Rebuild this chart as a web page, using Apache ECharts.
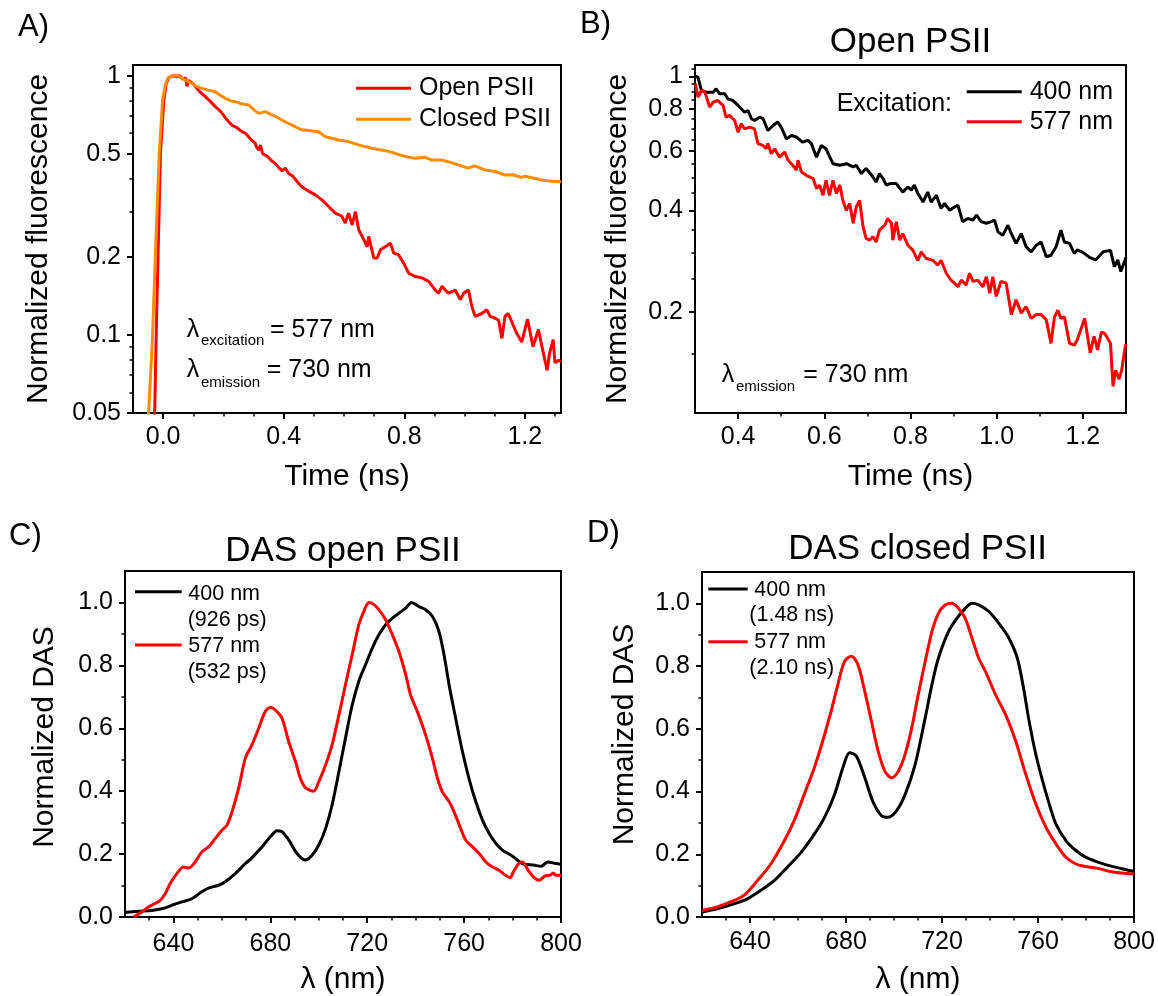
<!DOCTYPE html>
<html>
<head>
<meta charset="utf-8">
<script src="https://cdn.jsdelivr.net/npm/echarts@6/dist/echarts.min.js"></script>
<style>html,body{margin:0;padding:0;background:#fff}#chart{width:1158px;height:996px}</style>
</head>
<body>
<div id="chart"></div>
<script>
// ---------------- DATA ----------------
// Panel A: fluorescence decay (excitation 577 nm, emission 730 nm)
const timeA_open = [-0.034,-0.028,-0.023,-0.017,-0.009,0.002,0.010,0.018,0.030,0.045,0.055,0.065,0.075,0.079,0.085,0.100,0.120,0.140,0.155,0.173,0.190,0.210,0.228,0.245,0.260,0.273,0.290,0.305,0.310,0.317,0.323,0.330,0.345,0.360,0.372,0.385,0.395,0.405,0.416,0.430,0.445,0.460,0.472,0.490,0.505,0.527,0.549,0.571,0.593,0.604,0.615,0.627,0.638,0.649,0.666,0.677,0.682,0.699,0.710,0.721,0.737,0.754,0.765,0.781,0.798,0.815,0.837,0.859,0.881,0.903,0.914,0.925,0.936,0.947,0.969,0.986,0.997,1.013,1.024,1.035,1.057,1.074,1.085,1.102,1.113,1.124,1.134,1.145,1.160,1.172,1.190,1.209,1.227,1.245,1.257,1.274,1.282,1.294,1.300,1.312,1.320];
const fluorA_open = [0.035,0.05,0.1,0.2,0.5,0.8,0.93,0.98,1.0,0.99,1.0,0.97,0.98,0.91,0.96,0.93,0.87,0.83,0.80,0.76,0.73,0.68,0.645,0.63,0.61,0.60,0.57,0.55,0.53,0.517,0.54,0.50,0.49,0.47,0.459,0.44,0.43,0.44,0.42,0.41,0.39,0.373,0.365,0.355,0.347,0.332,0.313,0.295,0.287,0.270,0.295,0.266,0.299,0.254,0.233,0.219,0.240,0.198,0.198,0.213,0.219,0.226,0.207,0.204,0.189,0.173,0.168,0.166,0.161,0.149,0.145,0.154,0.149,0.145,0.149,0.137,0.145,0.149,0.129,0.118,0.121,0.125,0.118,0.116,0.114,0.097,0.118,0.121,0.11,0.102,0.094,0.115,0.090,0.105,0.090,0.073,0.085,0.096,0.078,0.080,0.079];
const timeA_closed = [-0.052,-0.048,-0.035,-0.026,-0.013,-0.002,0.008,0.016,0.030,0.050,0.063,0.080,0.096,0.110,0.129,0.150,0.173,0.190,0.206,0.225,0.240,0.260,0.284,0.300,0.317,0.339,0.361,0.380,0.394,0.410,0.427,0.445,0.460,0.472,0.495,0.516,0.538,0.560,0.582,0.615,0.648,0.692,0.737,0.770,0.803,0.836,0.869,0.891,0.924,0.946,0.979,1.012,1.034,1.068,1.101,1.134,1.160,1.190,1.200,1.220,1.260,1.290,1.320];
const fluorA_closed = [0.04,0.05,0.1,0.2,0.5,0.8,0.93,0.98,1.0,1.0,0.977,0.955,0.935,0.91,0.894,0.88,0.868,0.84,0.818,0.80,0.794,0.78,0.771,0.74,0.716,0.727,0.706,0.69,0.675,0.66,0.645,0.63,0.618,0.618,0.612,0.608,0.582,0.574,0.565,0.557,0.541,0.525,0.514,0.502,0.488,0.48,0.485,0.473,0.473,0.466,0.453,0.44,0.449,0.433,0.427,0.414,0.415,0.405,0.41,0.405,0.395,0.392,0.39];

// Panel B: open PSII, excitation 400 nm vs 577 nm
const timeB_400 = [0.300,0.307,0.315,0.326,0.342,0.349,0.357,0.369,0.376,0.388,0.400,0.403,0.415,0.423,0.431,0.438,0.450,0.458,0.469,0.481,0.492,0.500,0.512,0.524,0.535,0.550,0.562,0.570,0.582,0.593,0.604,0.620,0.636,0.651,0.667,0.674,0.686,0.697,0.713,0.720,0.728,0.736,0.744,0.752,0.767,0.782,0.794,0.802,0.809,0.817,0.829,0.840,0.848,0.860,0.871,0.879,0.891,0.902,0.910,0.921,0.933,0.945,0.953,0.964,0.976,0.987,0.995,1.003,1.014,1.026,1.034,1.045,1.057,1.068,1.080,1.092,1.103,1.115,1.126,1.138,1.149,1.157,1.169,1.180,1.187,1.200,1.215,1.230,1.247,1.264,1.273,1.281,1.288,1.298,1.300];
const fluorB_400 = [1.0,0.993,0.907,0.897,0.897,0.918,0.887,0.887,0.857,0.847,0.819,0.828,0.782,0.791,0.748,0.739,0.756,0.748,0.69,0.714,0.731,0.706,0.652,0.667,0.66,0.637,0.645,0.631,0.575,0.623,0.609,0.55,0.544,0.55,0.538,0.544,0.514,0.532,0.502,0.485,0.514,0.497,0.475,0.48,0.48,0.453,0.469,0.459,0.475,0.449,0.423,0.453,0.423,0.443,0.405,0.419,0.4,0.409,0.414,0.37,0.378,0.374,0.387,0.37,0.366,0.37,0.374,0.345,0.337,0.361,0.341,0.319,0.341,0.312,0.301,0.315,0.322,0.291,0.294,0.312,0.349,0.322,0.319,0.298,0.305,0.30,0.29,0.285,0.301,0.304,0.272,0.285,0.263,0.285,0.29];
const timeB_577 = [0.301,0.307,0.315,0.323,0.334,0.342,0.353,0.365,0.372,0.380,0.392,0.400,0.407,0.415,0.427,0.438,0.446,0.458,0.465,0.469,0.477,0.485,0.496,0.508,0.516,0.527,0.535,0.539,0.547,0.558,0.574,0.582,0.589,0.597,0.604,0.612,0.620,0.628,0.636,0.643,0.651,0.659,0.667,0.674,0.682,0.690,0.697,0.705,0.713,0.720,0.728,0.740,0.747,0.756,0.759,0.767,0.775,0.782,0.794,0.805,0.817,0.825,0.836,0.852,0.863,0.871,0.883,0.894,0.902,0.910,0.918,0.929,0.937,0.945,0.956,0.968,0.976,0.984,0.991,0.999,1.010,1.022,1.034,1.045,1.057,1.068,1.080,1.092,1.103,1.115,1.126,1.134,1.142,1.149,1.157,1.169,1.180,1.187,1.204,1.217,1.226,1.234,1.243,1.251,1.264,1.270,1.276,1.284,1.290,1.298,1.300];
const fluorB_577 = [0.95,0.867,0.907,0.897,0.81,0.838,0.847,0.819,0.756,0.765,0.739,0.682,0.723,0.698,0.706,0.698,0.631,0.623,0.609,0.631,0.589,0.609,0.575,0.596,0.563,0.544,0.526,0.563,0.52,0.508,0.497,0.464,0.475,0.443,0.491,0.443,0.491,0.449,0.475,0.428,0.4,0.419,0.366,0.409,0.428,0.357,0.33,0.326,0.334,0.322,0.349,0.361,0.378,0.366,0.326,0.37,0.326,0.341,0.315,0.305,0.284,0.301,0.288,0.284,0.275,0.284,0.26,0.248,0.243,0.237,0.248,0.24,0.26,0.246,0.248,0.237,0.254,0.227,0.254,0.222,0.246,0.243,0.196,0.217,0.198,0.207,0.191,0.196,0.196,0.189,0.161,0.193,0.202,0.191,0.193,0.161,0.159,0.165,0.191,0.151,0.169,0.154,0.174,0.172,0.161,0.12,0.134,0.126,0.134,0.157,0.16];

// Panel C: DAS open PSII
const wlC_400 = [620,625.5,631.1,635.2,639.3,643.5,647.6,651.7,654.5,658.6,661.4,665.5,669.7,672.4,676.6,680,682.8,684.8,687.6,691,694.5,697.3,700,702.8,705.5,708.3,711,713.8,716.5,719.3,722.1,724.8,727.6,730.4,733.1,735.9,738.3,741.4,744.1,746.9,749.6,751.7,753.8,756.5,759.3,762,764.8,767.6,770.3,773.1,775.9,779.3,784.1,788.7,791.8,794.5,797.9,800];
const dasC_400 = [0.014,0.018,0.021,0.026,0.037,0.048,0.058,0.08,0.092,0.101,0.112,0.138,0.17,0.188,0.223,0.255,0.274,0.271,0.245,0.202,0.181,0.197,0.229,0.281,0.356,0.462,0.568,0.674,0.749,0.802,0.855,0.897,0.929,0.95,0.966,0.982,1.0,0.987,0.977,0.956,0.908,0.834,0.738,0.632,0.526,0.441,0.367,0.308,0.266,0.234,0.212,0.197,0.17,0.165,0.161,0.175,0.17,0.168];
const wlC_577 = [623.5,626.9,629.7,632.4,634.5,636.6,638.6,641.4,644.1,646.2,649,651.7,654.5,657.3,660,662.1,664.2,666.9,669.7,672.4,675.2,677.9,680,682.1,684.8,687.6,690.4,692.4,694.5,697.9,700,702.8,705.5,708.3,711,713.8,716.5,718.6,720.7,722.8,724.8,727.6,730.4,733.1,735.9,737.9,740.7,744.1,746.9,749,751,753.8,755.8,758.6,760.7,763.5,766.2,769,771.7,774.5,777.2,779,780.3,782.6,784.1,786.4,788.7,791,793.3,795.6,796.8,797.9,800];
const dasC_577 = [0.0,0.016,0.032,0.043,0.053,0.074,0.106,0.138,0.159,0.156,0.175,0.207,0.223,0.25,0.276,0.292,0.335,0.409,0.505,0.547,0.6,0.653,0.666,0.658,0.632,0.557,0.494,0.441,0.411,0.4,0.43,0.483,0.547,0.642,0.738,0.834,0.929,0.972,1.0,0.993,0.977,0.945,0.897,0.844,0.77,0.706,0.653,0.579,0.505,0.441,0.398,0.367,0.335,0.281,0.244,0.223,0.202,0.175,0.159,0.148,0.132,0.125,0.143,0.17,0.175,0.149,0.127,0.117,0.13,0.133,0.14,0.133,0.133];

// Panel D: DAS closed PSII
const wlD_400 = [620,626.3,633.3,638.9,644.5,650.1,655.6,661.3,666.8,671,675.2,678.7,681.5,684.3,687.8,691.3,694.8,697.6,701.1,704.6,708.8,713,715.8,718.5,722.7,726.2,729.7,732.5,735.3,739.5,743.7,747.9,751.4,754.2,756.3,759.1,761.9,764.7,767.5,771.7,775.8,780,785,790,795,800];
const dasD_400 = [0.016,0.026,0.042,0.058,0.085,0.116,0.159,0.206,0.264,0.317,0.39,0.476,0.524,0.513,0.445,0.366,0.323,0.318,0.339,0.39,0.486,0.635,0.741,0.825,0.91,0.952,0.984,1.0,0.995,0.974,0.936,0.889,0.825,0.72,0.624,0.518,0.434,0.36,0.296,0.243,0.212,0.19,0.175,0.163,0.154,0.145];
const wlD_577 = [620,626.3,631.9,637.5,643.1,648.7,654.3,658.4,662.6,666.8,670.3,673.8,676.6,679.4,682.2,685,687.8,690.6,693.4,696.2,699,701.8,704.6,707.4,710.1,713,715.8,718.5,721.3,724.1,726.9,729.7,732.5,735.3,738.1,742.3,746.5,750.7,754.9,759.1,763.3,767.5,771.7,775.8,780,785,790,795,800];
const dasD_577 = [0.021,0.032,0.048,0.069,0.116,0.169,0.243,0.307,0.391,0.476,0.561,0.656,0.741,0.815,0.831,0.804,0.72,0.624,0.529,0.465,0.444,0.465,0.518,0.603,0.709,0.815,0.91,0.968,0.995,1.0,0.984,0.952,0.889,0.825,0.783,0.709,0.645,0.561,0.455,0.36,0.286,0.233,0.19,0.169,0.161,0.155,0.145,0.14,0.137];

// Tick values
const ticksA_x = [0, 0.4, 0.8, 1.2];
const minorA_x = [0.1, 0.2, 0.3, 0.5, 0.6, 0.7, 0.9, 1.0, 1.1, 1.3];
const ticksA_y = [0.05, 0.1, 0.2, 0.5, 1];
const minorA_y = [0.06, 0.07, 0.08, 0.09, 0.3, 0.4, 0.6, 0.7, 0.8, 0.9];
const ticksB_x = [0.4, 0.6, 0.8, 1.0, 1.2];
const minorB_x = [0.5, 0.7, 0.9, 1.1];
const ticksB_y = [0.2, 0.4, 0.6, 0.8, 1];
const minorB_y = [0.15, 0.25, 0.3, 0.35, 0.45, 0.5, 0.55, 0.65, 0.7, 0.75, 0.85, 0.9, 0.95, 1.05];
const ticksCD_x = [640, 680, 720, 760, 800];
const minorCD_x = [630, 650, 660, 670, 690, 700, 710, 730, 740, 750, 770, 780, 790];
const ticksCD_y = [0, 0.2, 0.4, 0.6, 0.8, 1.0];
const minorCD_y = [0.1, 0.3, 0.5, 0.7, 0.9];

// ---------------- CHART ----------------
const FONT = "'Liberation Sans', Arial, Helvetica, sans-serif";
const RED = '#ff0000', ORANGE = '#ff8c00', BLACK = '#000000';
const zip = (a, b) => a.map((v, i) => [v, b[i]]);

const fmt1 = v => Number(v).toFixed(1);
const fmtInt = v => String(Math.round(v));
const fmtLog = v => Math.abs(v - 1) < 1e-9 ? '1' : String(parseFloat(Number(v).toPrecision(3)));

function axisPair(dim, gridIndex, type, min, max, major, minor, fmt, margin, name, nameGap, namePad) {
  const base = { type, gridIndex, min, max, position: dim === 'x' ? 'bottom' : 'left' };
  if (type === 'log') base.logBase = 10;
  const main = Object.assign({}, base, {
    name, nameLocation: 'middle', nameGap,
    nameTextStyle: { fontFamily: FONT, fontSize: 30, color: '#000', padding: namePad || 0 },
    axisLine: { show: true, onZero: false, lineStyle: { color: '#000', width: 2 } },
    axisTick: { show: true, inside: false, length: 6, lineStyle: { color: '#000', width: 2 }, customValues: major },
    axisLabel: { show: true, customValues: major, formatter: fmt, margin, fontFamily: FONT, fontSize: 25, color: '#000' },
    splitLine: { show: false }, minorTick: { show: false }, minorSplitLine: { show: false },
    axisPointer: { show: false }
  });
  const over = Object.assign({}, base, {
    axisLine: { show: false, onZero: false },
    axisTick: { show: true, inside: false, length: 3.5, lineStyle: { color: '#000', width: 1.5 }, customValues: minor },
    axisLabel: { show: false },
    splitLine: { show: false }, minorTick: { show: false },
    axisPointer: { show: false }
  });
  return [main, over];
}

const grids = [
  { left: 133, top: 65, width: 428, height: 348 },
  { left: 695, top: 65, width: 431, height: 348 },
  { left: 125, top: 571, width: 436, height: 346 },
  { left: 702, top: 572, width: 432, height: 347 }
].map(g => Object.assign(g, { show: true, borderColor: '#000', borderWidth: 2, backgroundColor: 'transparent', containLabel: false }));

const xAxes = [
  ...axisPair('x', 0, 'value', -0.1, 1.32, ticksA_x, minorA_x, fmt1, 12, 'Time (ns)', 49),
  ...axisPair('x', 1, 'value', 0.3, 1.3, ticksB_x, minorB_x, fmt1, 12, 'Time (ns)', 49),
  ...axisPair('x', 2, 'value', 620, 800, ticksCD_x, minorCD_x, fmtInt, 15, 'λ (nm)', 48),
  ...axisPair('x', 3, 'value', 620, 800, ticksCD_x, minorCD_x, fmtInt, 13, 'λ (nm)', 48)
];
const yAxes = [
  ...axisPair('y', 0, 'log', 0.05, 1.1, ticksA_y, minorA_y, fmtLog, 12, 'Normalized fluorescence', 79),
  ...axisPair('y', 1, 'log', 0.1, 1.08, ticksB_y, minorB_y, fmtLog, 12, 'Normalized fluorescence', 62),
  ...axisPair('y', 2, 'value', 0, 1.1, ticksCD_y, minorCD_y, fmt1, 12, 'Normalized DAS', 65, [0, 0, 0, 14]),
  ...axisPair('y', 3, 'value', 0, 1.1, ticksCD_y, minorCD_y, fmt1, 12, 'Normalized DAS', 62, [0, 0, 0, 20])
];

function line(name, xi, yi, data, color, smooth) {
  return {
    type: 'line', name, xAxisIndex: xi, yAxisIndex: yi, data,
    symbol: 'none', showSymbol: false, smooth: smooth || false, clip: true,
    lineStyle: { color, width: 3 }, itemStyle: { color },
    emphasis: { disabled: true }, animation: false
  };
}

const series = [
  line('Open PSII', 0, 0, zip(timeA_open, fluorA_open), RED),
  line('Closed PSII', 0, 0, zip(timeA_closed, fluorA_closed), ORANGE),
  line('400 nm', 2, 2, zip(timeB_400, fluorB_400), BLACK),
  line('577 nm', 2, 2, zip(timeB_577, fluorB_577), RED),
  line('400 nm (C)', 4, 4, zip(wlC_400, dasC_400), BLACK, 0.3),
  line('577 nm (C)', 4, 4, zip(wlC_577, dasC_577), RED, 0.3),
  line('400 nm (D)', 6, 6, zip(wlD_400, dasD_400), BLACK, 0.3),
  line('577 nm (D)', 6, 6, zip(wlD_577, dasD_577), RED, 0.3)
];

const legendText = { fontFamily: FONT, fontSize: 25, color: '#000', lineHeight: 26, padding: [0, 0, 0, 3] };
const legends = [
  { data: ['Open PSII', 'Closed PSII'], orient: 'vertical', left: 356, top: 75.3, padding: 0, icon: 'rect', itemWidth: 55, itemHeight: 3, itemGap: 5, selectedMode: false, textStyle: legendText },
  { data: ['400 nm', '577 nm'], orient: 'vertical', left: 966.7, top: 78.7, padding: 0, icon: 'rect', itemWidth: 55, itemHeight: 3, itemGap: 4, selectedMode: false, textStyle: legendText }
];

function T(text, x, y, size, align, vAlign) {
  return { type: 'text', x, y, silent: true, z: 100,
    style: { text, font: size + 'px ' + FONT, fill: '#000', align: align || 'left', verticalAlign: vAlign || 'middle' } };
}
function L(x1, x2, y, color) {
  return { type: 'line', silent: true, z: 100, shape: { x1, y1: y, x2, y2: y }, style: { stroke: color, lineWidth: 3 } };
}

const graphics = [
  T('A)', 18, 27, 31), T('B)', 580, 24, 31), T('C)', 9, 536, 31), T('D)', 587, 533, 31),
  T('Open PSII', 910.5, 42.5, 35, 'center'),
  T('DAS open PSII', 343, 551.7, 35, 'center'),
  T('DAS closed PSII', 917.5, 549, 35, 'center'),
  // panel A annotations
  T('λ', 186.7, 330, 25), T('excitation', 201, 340.8, 15), T('= 577 nm', 270, 330, 25),
  T('λ', 186.7, 370, 25), T('emission', 201, 383, 15), T('= 730 nm', 266.7, 370, 25),
  // panel B annotations
  T('Excitation:', 952, 104, 25, 'right'),
  T('λ', 721.7, 375, 25), T('emission', 736, 386.5, 15), T('= 730 nm', 803.3, 375, 25),
  // panel C legend
  L(135, 181.7, 591.7, BLACK), T('400 nm', 188.3, 594, 21.5), T('(926 ps)', 187.7, 620.5, 21.5),
  L(135, 181.7, 645, RED), T('577 nm', 188.3, 645.8, 21.5), T('(532 ps)', 187.7, 672, 21.5),
  // panel D legend
  L(708.3, 747.7, 589, BLACK), T('400 nm', 754.3, 590.3, 21.5), T('(1.48 ns)', 749.3, 615.3, 21.5),
  L(708.3, 747.7, 641.7, RED), T('577 nm', 754.3, 642, 21.5), T('(2.10 ns)', 749.3, 667.8, 21.5)
];

const chart = echarts.init(document.getElementById('chart'), null, { renderer: 'canvas' });
chart.setOption({
  animation: false,
  backgroundColor: '#ffffff',
  textStyle: { fontFamily: FONT },
  grid: grids,
  xAxis: xAxes,
  yAxis: yAxes,
  legend: legends,
  series,
  graphic: { elements: graphics }
});
</script>
</body>
</html>
